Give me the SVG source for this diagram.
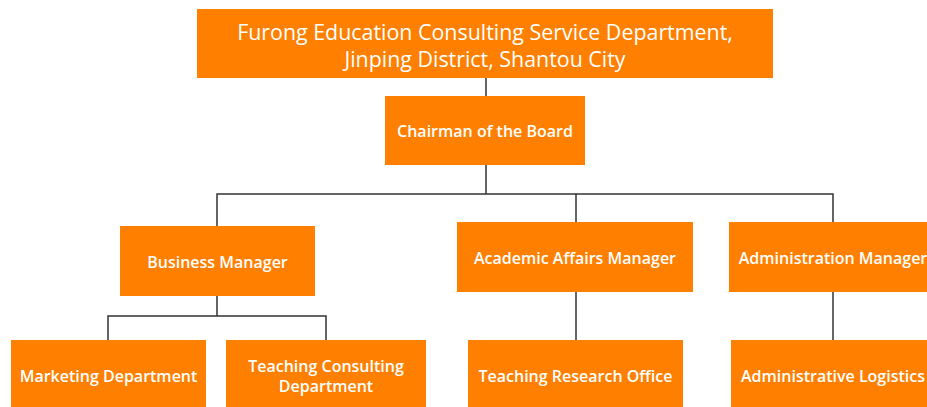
<svg xmlns="http://www.w3.org/2000/svg" width="927" height="407" viewBox="0 0 927 407">
  <style>
    .box { fill: #FF8000; }
    .lbl { fill: #FFFFFF; font-family: "Open Sans", "Noto Sans", sans-serif; font-size: 16px; font-weight: 600; text-anchor: middle; dominant-baseline: central; }
    .title { font-size: 21.4px; font-weight: 400; }
    .wire { fill: none; stroke: #333333; stroke-width: 1.5; }
  </style>
  <rect width="927" height="407" fill="#FFFFFF"/>

  <!-- connectors -->
  <g id="connectors">
    <path class="wire" d="M486 78 V96"/>
    <path class="wire" d="M486 165 V194 M217 226 V194 H833 V222 M576 194 V222"/>
    <path class="wire" d="M217 296 V316 M108 340 V316 H326 V340"/>
    <path class="wire" d="M576 292 V340"/>
    <path class="wire" d="M833 292 V340"/>
  </g>

  <g id="company">
    <rect class="box" x="197" y="9" width="576" height="69"/>
    <text class="lbl title" x="485" y="31">Furong Education Consulting Service Department,</text>
    <text class="lbl title" x="485" y="58.5">Jinping District, Shantou City</text>
  </g>
  <g id="chairman">
    <rect class="box" x="385" y="96" width="200" height="69"/>
    <text class="lbl" x="485" y="131">Chairman of the Board</text>
  </g>
  <g id="business-manager">
    <rect class="box" x="120" y="226" width="195" height="70"/>
    <text class="lbl" x="217.5" y="262">Business Manager</text>
  </g>
  <g id="academic-manager">
    <rect class="box" x="457" y="222" width="236" height="70"/>
    <text class="lbl" x="575" y="258">Academic Affairs Manager</text>
  </g>
  <g id="administration-manager">
    <rect class="box" x="729" y="222" width="208" height="70"/>
    <text class="lbl" x="833" y="258">Administration Manager</text>
  </g>
  <g id="marketing">
    <rect class="box" x="11" y="340" width="195" height="67"/>
    <text class="lbl" x="108.5" y="376">Marketing Department</text>
  </g>
  <g id="teaching-consulting">
    <rect class="box" x="226" y="340" width="200" height="67"/>
    <text class="lbl" x="326" y="366">Teaching Consulting</text>
    <text class="lbl" x="326" y="386">Department</text>
  </g>
  <g id="teaching-research">
    <rect class="box" x="468" y="340" width="215" height="67"/>
    <text class="lbl" x="575.5" y="376">Teaching Research Office</text>
  </g>
  <g id="logistics">
    <rect class="box" x="731" y="340" width="204" height="67"/>
    <text class="lbl" x="833" y="376">Administrative Logistics</text>
  </g>
</svg>
